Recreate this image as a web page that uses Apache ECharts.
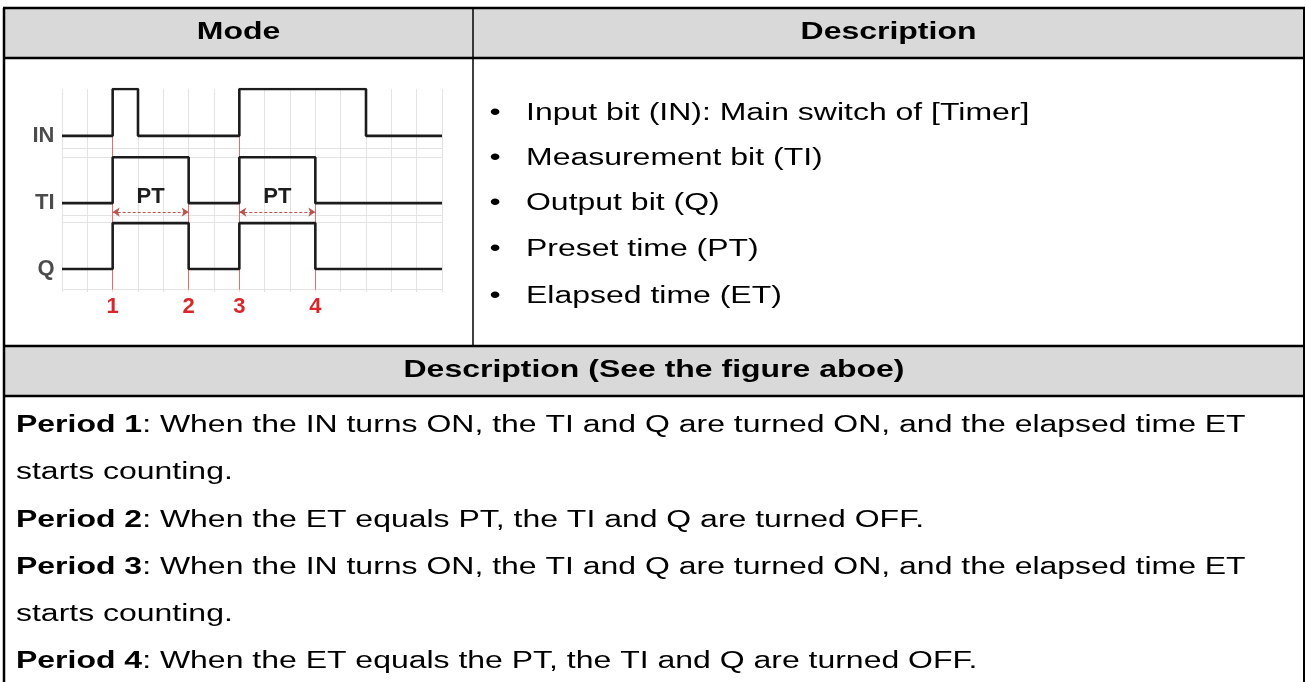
<!DOCTYPE html>
<html><head><meta charset="utf-8">
<script src="https://cdn.jsdelivr.net/npm/echarts@6/dist/echarts.min.js"></script>
<style>html,body{margin:0;padding:0;background:#fff}#c{width:1306px;height:682px}</style>
</head><body><div id="c"></div>
<script>
// ---- data ----
const timeTicks = [0,1,2,3,4,5,6,7,8,9,10,11,12,13,14,15];
const signalNames = ['IN', 'TI', 'Q'];
const signalBase = [2.9, 1.435, 0];
const signalAmp = [1.02, 1.0, 1.0];
const inTimes = [0, 2, 3, 7, 12, 15];
const inStates = [0, 1, 0, 1, 0, 0];
const tiTimes = [0, 2, 5, 7, 10, 15];
const tiStates = [0, 1, 0, 1, 0, 0];
const qTimes = [0, 2, 5, 7, 10, 15];
const qStates = [0, 1, 0, 1, 0, 0];
const eventTimes = [2, 5, 7, 10];
const eventLabels = ['1', '2', '3', '4'];
const eventTops = [2.9, 1.435, 2.9, 1.435];
const eventBottom = -0.45;
const ptStarts = [2, 7];
const ptEnds = [5, 10];
const ptLabel = 'PT';
const ptLevel = 1.24;
const gridRows = [2.63, 2.435, 1.17, 1.02, -0.45];
const headerMode = 'Mode';
const headerDesc = 'Description';
const bullets = [
  'Input bit (IN): Main switch of [Timer]',
  'Measurement bit (TI)',
  'Output bit (Q)',
  'Preset time (PT)',
  'Elapsed time (ET)'
];
const descTitle = 'Description (See the figure aboe)';
const periodBold = ['Period 1', '', 'Period 2', 'Period 3', '', 'Period 4'];
const periodText = [
  ': When the IN turns ON, the TI and Q are turned ON, and the elapsed time ET',
  'starts counting.',
  ': When the ET equals PT, the TI and Q are turned OFF.',
  ': When the IN turns ON, the TI and Q are turned ON, and the elapsed time ET',
  'starts counting.',
  ': When the ET equals the PT, the TI and Q are turned OFF.'
];

// ---- layout ----
const FONT = '"Liberation Sans", Arial, sans-serif';
const FS = 23, SX = 1.39;
const L = 4, R = 1304, TOP = 8, H1 = 58, DIV = 473, H2 = 346, H3 = 396, BOT = 682;
const bulletY = [114, 159, 204, 250, 297];
const periodY = [426, 473, 521, 568, 615, 662];

const chart = echarts.init(document.getElementById('c'), null, {renderer: 'canvas'});

function stepData(times, states, i) {
  return times.map((t, k) => [t, signalBase[i] + states[k] * signalAmp[i]]);
}
const sigTimes = [inTimes, tiTimes, qTimes];
const sigStates = [inStates, tiStates, qStates];

const series = [];
series.push({
  type: 'line', data: [], z: 1, silent: true,
  markLine: {
    silent: true, symbol: ['none', 'none'], animation: false,
    label: {show: false},
    lineStyle: {color: '#e3e3e3', width: 1, type: 'solid'},
    data: gridRows.map(v => ({yAxis: v}))
  }
});
series.push({
  type: 'line', data: [], z: 2, silent: true,
  markLine: {
    silent: true, symbol: ['none', 'none'], animation: false,
    lineStyle: {color: 'rgba(225,80,80,0.8)', width: 1, type: 'solid'},
    label: {show: true, position: 'end', distance: 6, formatter: p => p.name,
      color: '#d8262a', fontWeight: 'bold', fontSize: 22, fontFamily: FONT},
    data: eventTimes.map((t, k) => [{name: eventLabels[k], coord: [t, eventTops[k]]}, {coord: [t, eventBottom]}])
  }
});
series.push({
  type: 'line', data: [], z: 2, silent: true,
  markLine: {
    silent: true, symbol: ['arrow', 'arrow'], symbolSize: 7, animation: false,
    lineStyle: {color: '#b9534f', width: 1.2, type: [3, 2]},
    label: {show: true, position: 'middle', distance: 4, formatter: p => p.name,
      color: '#1e1e1e', fontWeight: 'bold', fontSize: 22, fontFamily: FONT},
    data: ptStarts.map((s, k) => [{name: ptLabel, coord: [s, ptLevel]}, {coord: [ptEnds[k], ptLevel]}])
  }
});
signalNames.forEach((n, i) => {
  series.push({
    name: n, type: 'line', step: 'end', symbol: 'none', z: 5, silent: true,
    lineStyle: {color: '#1c1c1c', width: 2.6},
    data: stepData(sigTimes[i], sigStates[i], i)
  });
});
series.push({
  type: 'scatter', z: 5, silent: true, symbolSize: 1,
  itemStyle: {color: 'rgba(0,0,0,0)'},
  label: {show: true, position: 'left', distance: 7, formatter: p => p.name,
    color: '#1e1e1e', fontWeight: 'bold', fontSize: 22, fontFamily: FONT},
  data: signalNames.map((n, i) => ({name: n, value: [timeTicks[0], signalBase[i]]}))
});

function txt(text, x, y, opts) {
  opts = opts || {};
  return {
    type: 'text', x: x, y: y, scaleX: SX, z: 20, silent: true,
    style: Object.assign({
      text: text, fontSize: FS, fontFamily: FONT, fontWeight: opts.bold ? 'bold' : 'normal',
      fill: '#000', textAlign: opts.align || 'left', textVerticalAlign: 'middle'
    }, opts.rich ? {rich: opts.rich} : {})
  };
}
function line(x1, y1, x2, y2, w) {
  return {type: 'line', z: 30, silent: true, shape: {x1, y1, x2, y2}, style: {stroke: '#000', lineWidth: w}};
}

const graphics = [
  {type: 'rect', z: 10, silent: true, shape: {x: L, y: TOP, width: R - L, height: H1 - TOP}, style: {fill: '#d9d9d9'}},
  {type: 'rect', z: 10, silent: true, shape: {x: L, y: H2, width: R - L, height: H3 - H2}, style: {fill: '#d9d9d9'}},
  line(L - 1, TOP, R + 1, TOP, 2.5),
  line(L, TOP, L, BOT, 2.5),
  line(R, TOP, R, BOT, 2),
  line(L, H1, R, H1, 2.5),
  line(DIV, TOP, DIV, H2, 1.5),
  line(L, H2, R, H2, 2.5),
  line(L, H3, R, H3, 2.5),
  txt(headerMode, (L + DIV) / 2, 33, {bold: true, align: 'center'}),
  txt(headerDesc, (DIV + R) / 2, 33, {bold: true, align: 'center'}),
  txt(descTitle, (L + R) / 2, 371, {bold: true, align: 'center'})
];
bullets.forEach((b, k) => {
  graphics.push(txt('\u2022', 495, bulletY[k], {align: 'center'}));
  graphics.push(txt(b, 526, bulletY[k]));
});
periodText.forEach((t, k) => {
  const s = periodBold[k] ? '{b|' + periodBold[k] + '}' + t : t;
  graphics.push(txt(s, 16, periodY[k], {rich: {b: {fontWeight: 'bold', fontSize: FS, fontFamily: FONT, fill: '#000'}}}));
});

chart.setOption({
  animation: false,
  backgroundColor: '#ffffff',
  grid: {left: 62, width: 380, top: 89, height: 203, containLabel: false},
  xAxis: {type: 'value', min: timeTicks[0], max: timeTicks[timeTicks.length - 1], interval: 1,
    axisLine: {show: false}, axisTick: {show: false}, axisLabel: {show: false},
    splitLine: {show: true, lineStyle: {color: '#e3e3e3', width: 1}}},
  yAxis: {type: 'value', min: -0.5, max: 3.92, axisLine: {show: false}, axisTick: {show: false},
    axisLabel: {show: false}, splitLine: {show: false}},
  series: series,
  graphic: graphics
});
</script></body></html>
